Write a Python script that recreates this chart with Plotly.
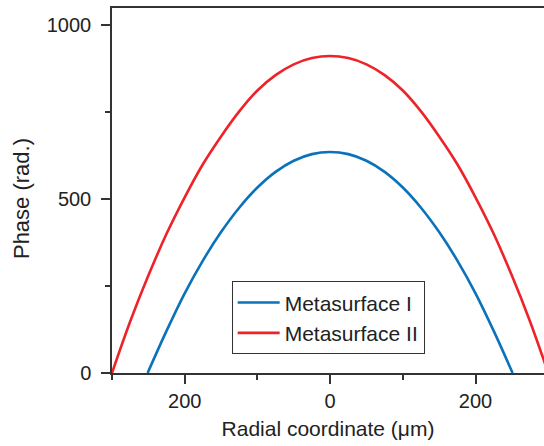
import plotly.graph_objects as go

# Radial coordinate (um) and phase (rad.)
r_II = [-300, -275, -250, -225, -200, -175, -150, -125, -100, -75, -50, -25, 0,
        25, 50, 75, 100, 125, 150, 175, 200, 225, 250, 275, 300]
phase_II = [0, 148, 280, 400, 505, 600, 680, 752, 812, 856, 887, 905, 911,
            905, 887, 856, 812, 752, 680, 600, 505, 400, 280, 148, 0]

r_I = [-251, -225, -200, -175, -150, -125, -100, -75, -50, -25, 0,
       25, 50, 75, 100, 125, 150, 175, 200, 225, 251]
phase_I = [0, 121, 229, 323, 405, 475, 533, 578, 610, 629, 635,
           629, 610, 578, 533, 475, 405, 323, 229, 121, 0]

x_tickvals = [-200, 0, 200]
x_ticktext = ["200", "0", "200"]
y_tickvals = [0, 500, 1000]
y_ticktext = ["0", "500", "1000"]

FONT = "Liberation Sans, Arial, sans-serif"
AX = "#333333"

fig = go.Figure()
fig.add_trace(go.Scatter(x=r_I, y=phase_I, mode="lines", name="Metasurface I",
                         line=dict(color="#0A72BA", width=2.6, shape="spline")))
fig.add_trace(go.Scatter(x=r_II, y=phase_II, mode="lines", name="Metasurface II",
                         line=dict(color="#EE2329", width=2.6, shape="spline")))

fig.update_layout(
    width=544, height=446,
    margin=dict(l=112, r=0, t=8, b=73),
    paper_bgcolor="white", plot_bgcolor="white",
    font=dict(family=FONT, color="#222222", size=20),
    showlegend=True,
    legend=dict(x=0.277, y=0.251, xanchor="left", yanchor="top",
                bordercolor="#333333", borderwidth=1, bgcolor="white",
                font=dict(size=21, family=FONT, color="#222222"),
                itemwidth=42, tracegroupgap=0),
    xaxis=dict(range=[-300, 294.2], showgrid=False, zeroline=False,
               showline=True, linecolor=AX, linewidth=1.5, mirror=True,
               ticks="outside", ticklen=9, tickwidth=1.5, tickcolor=AX,
               tickmode="array", tickvals=x_tickvals, ticktext=x_ticktext,
               tickfont=dict(size=20),
               minor=dict(tickmode="linear", tick0=0, dtick=100, ticks="outside",
                          ticklen=5, tickwidth=1.5, tickcolor=AX),
               title=dict(text="Radial coordinate (\u03bcm)", font=dict(size=21), standoff=11)),
    yaxis=dict(range=[0, 1049], showgrid=False, zeroline=False,
               showline=True, linecolor=AX, linewidth=1.5,
               ticks="outside", ticklen=9, tickwidth=1.5, tickcolor=AX,
               tickmode="array", tickvals=y_tickvals, ticktext=y_ticktext,
               tickfont=dict(size=20), ticklabelstandoff=6,
               minor=dict(tickmode="linear", tick0=0, dtick=250, ticks="outside",
                          ticklen=5, tickwidth=1.5, tickcolor=AX)),
    annotations=[dict(text="Phase (rad.)", textangle=-90, xref="paper", yref="paper",
                      x=-0.208, y=0.477, xanchor="center", yanchor="middle",
                      showarrow=False, font=dict(size=22, family=FONT, color="#222222"))],
)

fig.write_html("out.html")
